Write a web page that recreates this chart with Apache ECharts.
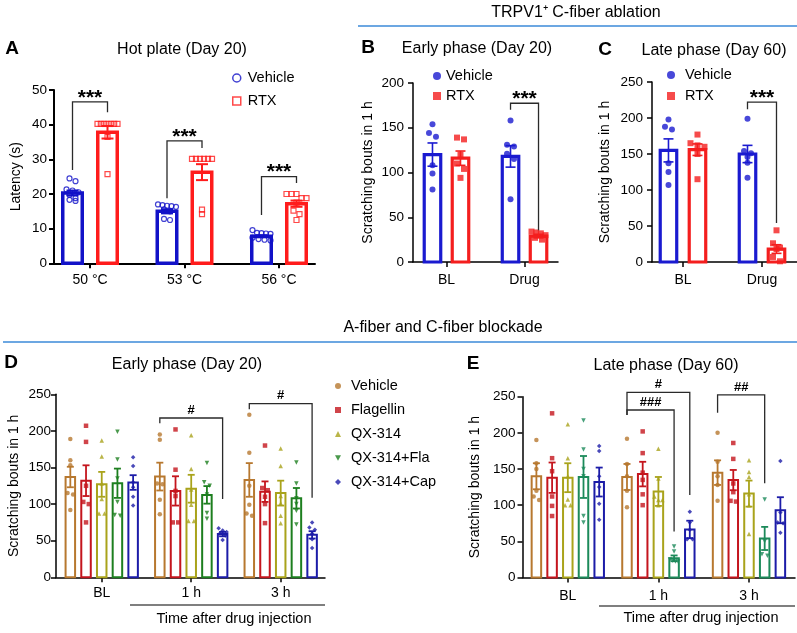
<!DOCTYPE html>
<html><head><meta charset="utf-8">
<script src="https://cdn.jsdelivr.net/npm/echarts@6/dist/echarts.min.js"></script>
<style>html,body{margin:0;padding:0;background:#fff}#c{width:797px;height:633px}</style>
</head><body><div id="c"></div>
<script>
// ---------- DATA ----------
// Panel A: hot plate latency (s)
const hotCats = ['50 °C', '53 °C', '56 °C'];
const hotVehMean = [20.3, 15.0, 7.8];
const hotVehSem = [0.7, 0.6, 0.3];
const hotRtxMean = [37.8, 26.3, 17.2];
const hotRtxSem = [1.8, 2.3, 0.9];
const hotVehPts = [[24.5, 23.7, 21.3, 21.0, 20.5, 19.8, 18.8, 18.3, 18.0],
                   [17.0, 16.8, 16.6, 16.5, 16.3, 15.6, 15.0, 12.8, 12.5],
                   [9.6, 8.8, 8.7, 8.6, 8.5, 7.4, 7.0, 6.8, 6.6]];
const hotRtxPts = [[40.2, 40.2, 40.2, 40.2, 40.2, 40.2, 40.2, 36.5, 25.7],
                   [30.1, 30.1, 30.1, 30.1, 30.1, 30.1, 15.5, 14.2],
                   [20.0, 20.0, 20.0, 18.8, 18.8, 17.5, 15.2, 14.2, 12.5]];
const hotBrackets = [[0, 0, 1, 46.6, 26.9, 43.6], [1, 0, 1, 35.3, 18.8, 33.3], [2, 0, 1, 25.0, 13.9, 23.2]];
const hotSig = ['***', '***', '***'];

// Panel B: early phase (Day 20)
const phaseCats = ['BL', 'Drug'];
const earlyVehMean = [120, 118];
const earlyVehSem = [13, 12];
const earlyRtxMean = [116, 29];
const earlyRtxSem = [8, 2];
const earlyVehPts = [[154, 144, 140, 108, 99, 81], [158, 131, 129, 121, 115, 70]];
const earlyRtxPts = [[139, 137, 120, 110, 104, 94], [34, 33, 32, 30, 27, 25]];
const earlyBrackets = [[1, 0, 1, 177.4, 170, 35.5]];
const earlySig = ['***'];

// Panel C: late phase (Day 60)
const lateVehMean = [155, 150];
const lateVehSem = [16, 12];
const lateRtxMean = [156, 18];
const lateRtxSem = [8, 6];
const lateVehPts = [[198, 188, 184, 137, 125, 107], [199, 154, 151, 146, 138, 117]];
const lateRtxPts = [[177, 165, 162, 160, 150, 115], [44, 26, 20, 18, 7, 1]];
const lateBrackets = [[1, 0, 1, 222, 212, 54]];
const lateSig = ['***'];

// Panels D & E: A-fiber and C-fiber blockade
const timeCats = ['BL', '1 h', '3 h'];
const groupNames = ['Vehicle', 'Flagellin', 'QX-314', 'QX-314+Fla', 'QX-314+Cap'];
const dMean = [[137, 137.6, 133], [132, 118, 117], [127, 121, 115], [128.5, 112.6, 108], [129.5, 59, 58]];
const dSem = [[14, 19, 23], [21, 20, 14], [17, 19, 17], [20, 12, 14], [10, 3, 5]];
const dPts = [
  [[189, 160, 153, 115, 113, 92], [195, 188, 128, 127, 106, 86], [222, 170, 125, 99, 87, 84]],
  [[207, 185, 125, 103, 100, 75], [202, 147, 118, 111, 75, 75], [180, 122, 119, 110, 100, 74]],
  [[187, 165, 128, 107, 87, 87], [194, 148, 120, 99, 77, 77], [176, 152, 111, 101, 84, 74]],
  [[199, 161, 135, 103, 84, 85], [156, 130, 125, 113, 88, 80], [157, 128, 108, 100, 91, 72]],
  [[164, 152, 130, 123, 110, 98], [67, 64, 62, 60, 57, 51], [75, 68, 65, 60, 52, 40]]
];
const dBrackets = [[1, 0, 4, 217.6, 210.4, 107], [2, 0, 4, 237.3, 229.5, 108.6]];
const dSig = ['#', '#'];

const eMean = [[140, 139, 145], [138, 143, 134.7], [138, 119, 116], [139, 26.5, 54], [132, 66.5, 93]];
const eSem = [[18, 18, 17], [21, 17, 14], [20, 20, 18], [29, 4, 16], [20, 12, 18]];
const ePts = [
  [[190, 158, 150, 120, 112, 107], [192, 157, 140, 120, 97], [200, 160, 140, 128, 106]],
  [[227, 165, 147, 112, 99, 85], [202, 172, 145, 135, 115, 100], [186, 164, 130, 118, 106, 105]],
  [[212, 165, 140, 108, 100, 100], [178, 137, 112, 107, 107, 100], [162, 146, 139, 115, 100, 60]],
  [[217, 177, 150, 140, 85, 76], [43, 36, 25, 23, 22, 22], [108, 50, 32, 30]],
  [[182, 175, 140, 125, 102, 80], [91, 76, 66, 53, 53], [161, 90, 76, 75, 62]]
];
const eBrackets = [[1, 0, 4, 256, 224.7, 114], [1, 0, 3, 231.6, 224.7, 63.6], [2, 0, 3, 252.4, 227.9, 130.3]];
const eSig = ['#', '###', '##'];

// ---------- STYLE ----------
const FONT = "'Liberation Sans', Arial, Helvetica, sans-serif";
const BLUE_A = '#1212c8', RED_A = '#ff1c1c';
const BLUE_B = '#1a1ad0', RED_B = '#f41e1e';
const grpColorsD = ['#b7782f', '#c4151d', '#a9a31b', '#1d7f1f', '#1c1ca8'];
const grpColorsE = ['#b7782f', '#c4151d', '#a9a31b', '#1c8a5a', '#1c1ca8'];
const DOWN_TRI = 'path://M0,0L10,0L5,9Z';
const grpSymbols = ['circle', 'rect', 'triangle', DOWN_TRI, 'diamond'];
const grpOffs = [-31.4, -15.7, 0, 15.7, 31.4];

function swarm(vals, ppu, size, maxW) {
  const idx = vals.map((v, i) => i).sort((a, b) => vals[b] - vals[a]);
  const rows = [];
  idx.forEach(i => {
    const r = rows[rows.length - 1];
    if (r && (r.top - vals[i]) * ppu < size * 0.9) r.items.push(i);
    else rows.push({ top: vals[i], items: [i] });
  });
  const off = new Array(vals.length).fill(0);
  rows.forEach(r => {
    const k = r.items.length;
    const step = k > 1 ? Math.min(size + 1, maxW / (k - 1)) : 0;
    r.items.forEach((i, j) => { off[i] = (j - (k - 1) / 2) * step; });
  });
  return off;
}

function barSeries(g, mean, sem, color, off, w, lw, elw, cap) {
  return {
    type: 'custom', xAxisIndex: g, yAxisIndex: g, clip: false, silent: true, z: 2,
    data: mean.map((m, i) => [i, m, sem[i]]),
    renderItem: (params, api) => {
      const c = api.value(0), m = api.value(1), s = api.value(2);
      const p0 = api.coord([c, 0]), pm = api.coord([c, m]);
      const pt = api.coord([c, m + s]), pb = api.coord([c, Math.max(0, m - s)]);
      const cx = p0[0] + off;
      const es = { stroke: color, lineWidth: elw };
      return { type: 'group', children: [
        { type: 'rect', shape: { x: cx - w / 2, y: pm[1], width: w, height: p0[1] - pm[1] },
          style: { fill: 'none', stroke: color, lineWidth: lw } },
        { type: 'line', shape: { x1: cx, y1: pt[1], x2: cx, y2: pb[1] }, style: es },
        { type: 'line', shape: { x1: cx - cap, y1: pt[1], x2: cx + cap, y2: pt[1] }, style: es },
        { type: 'line', shape: { x1: cx - cap, y1: pb[1], x2: cx + cap, y2: pb[1] }, style: es }
      ] };
    }
  };
}

function ptsSeries(name, g, ptsByCat, off, ppu, size, maxW, symbol, itemStyle) {
  const data = [];
  ptsByCat.forEach((arr, c) => {
    const o = swarm(arr, ppu, size, maxW);
    arr.forEach((v, k) => data.push({ value: [c, v], symbolOffset: [off + o[k], 0] }));
  });
  return { type: 'scatter', name, xAxisIndex: g, yAxisIndex: g, symbol, symbolSize: size,
    itemStyle, data, z: 4, silent: true, clip: false };
}

function bracketSeries(g, items, labels, offs, font, dy) {
  return {
    type: 'custom', xAxisIndex: g, yAxisIndex: g, clip: false, silent: true, z: 5, data: items,
    renderItem: (params, api) => {
      const c = api.value(0), li = api.value(1), ri = api.value(2);
      const pt = api.coord([c, api.value(3)]), pl = api.coord([c, api.value(4)]), pr = api.coord([c, api.value(5)]);
      const xl = pt[0] + offs[li], xr = pt[0] + offs[ri];
      return { type: 'group', children: [
        { type: 'polyline', shape: { points: [[xl, pl[1]], [xl, pt[1]], [xr, pt[1]], [xr, pr[1]]] },
          style: { stroke: '#2a2a2a', lineWidth: 1.3, fill: 'none' } },
        { type: 'text', x: (xl + xr) / 2, y: pt[1] + dy,
          style: { text: labels[params.dataIndex], textAlign: 'center', textVerticalAlign: 'middle', font: font, fill: '#000' } }
      ] };
    }
  };
}

function xAx(g, min, max, cats, lw, margin) {
  const vals = cats.map((_, i) => i);
  return { type: 'value', gridIndex: g, min, max, position: 'bottom', splitLine: { show: false },
    axisLine: { show: true, onZero: false, lineStyle: { color: '#000', width: lw } },
    axisTick: { show: true, customValues: vals, length: 5, lineStyle: { color: '#000', width: lw } },
    axisLabel: { customValues: vals, formatter: v => cats[Math.round(v)], color: '#000', fontSize: 14, fontFamily: FONT, margin } };
}
function yAx(g, max, interval, name, nameGap, lw, fs, margin) {
  return { type: 'value', gridIndex: g, min: 0, max, interval, name, nameLocation: 'middle', nameGap, nameRotate: 90,
    nameTextStyle: { fontSize: 14, fontFamily: FONT, color: '#000' }, splitLine: { show: false },
    axisLine: { show: true, onZero: false, lineStyle: { color: '#000', width: lw } },
    axisTick: { show: true, length: 5, lineStyle: { color: '#000', width: lw } },
    axisLabel: { color: '#000', fontSize: fs, fontFamily: FONT, margin } };
}

const series = [];
// A
series.push(barSeries(0, hotVehMean, hotVehSem, BLUE_A, -17.5, 19.5, 3.5, 2, 6));
series.push(barSeries(0, hotRtxMean, hotRtxSem, RED_A, 17.5, 19.5, 3.5, 2, 6));
series.push(ptsSeries('Vehicle', 0, hotVehPts, -17.5, 3.466, 5, 18, 'circle', { color: 'rgba(255,255,255,0)', borderColor: BLUE_A, borderWidth: 1.2 }));
series.push(ptsSeries('RTX', 0, hotRtxPts, 17.5, 3.466, 5, 20, 'rect', { color: 'rgba(255,255,255,0)', borderColor: RED_A, borderWidth: 1.2 }));
series.push(bracketSeries(0, hotBrackets, hotSig, [-17.5, 17.5], 'bold 21px ' + FONT, -4));
// B
series.push(barSeries(1, earlyVehMean, earlyVehSem, BLUE_B, -14, 16.5, 3.2, 1.6, 5));
series.push(barSeries(1, earlyRtxMean, earlyRtxSem, RED_B, 14, 16.5, 3.2, 1.6, 5));
series.push(ptsSeries('Vehicle', 1, earlyVehPts, -14, 0.895, 6, 14, 'circle', { color: BLUE_B }));
series.push(ptsSeries('RTX', 1, earlyRtxPts, 14, 0.895, 6, 14, 'rect', { color: RED_B }));
series.push(bracketSeries(1, earlyBrackets, earlySig, [-14, 14], 'bold 21px ' + FONT, -4));
// C
series.push(barSeries(2, lateVehMean, lateVehSem, BLUE_B, -14.5, 16.5, 3.2, 1.6, 5));
series.push(barSeries(2, lateRtxMean, lateRtxSem, RED_B, 14.5, 16.5, 3.2, 1.6, 5));
series.push(ptsSeries('Vehicle', 2, lateVehPts, -14.5, 0.72, 6, 14, 'circle', { color: BLUE_B }));
series.push(ptsSeries('RTX', 2, lateRtxPts, 14.5, 0.72, 6, 14, 'rect', { color: RED_B }));
series.push(bracketSeries(2, lateBrackets, lateSig, [-14.5, 14.5], 'bold 21px ' + FONT, -4));
// D & E
groupNames.forEach((nm, k) => {
  series.push(barSeries(3, dMean[k], dSem[k], grpColorsD[k], grpOffs[k], 9.5, 2, 1.8, 3.5));
  series.push(ptsSeries(nm, 3, dPts[k], grpOffs[k], 0.732, 4.5, 8, grpSymbols[k], { color: grpColorsD[k] }));
  series.push(barSeries(4, eMean[k], eSem[k], grpColorsE[k], grpOffs[k], 9.5, 2, 1.8, 3.5));
  series.push(ptsSeries(nm, 4, ePts[k], grpOffs[k], 0.723, 4.5, 8, grpSymbols[k], { color: grpColorsE[k] }));
});
series.push(bracketSeries(3, dBrackets, dSig, grpOffs, 'bold 13px ' + FONT, -8));
series.push(bracketSeries(4, eBrackets, eSig, grpOffs, 'bold 13px ' + FONT, -8));

const legText = { fontSize: 14.5, fontFamily: FONT, color: '#000', lineHeight: 16 };
function txt(x, y, text, font, align) {
  return { type: 'text', x, y, silent: true, style: { text, font, fill: '#000', textAlign: align || 'center', textVerticalAlign: 'middle' } };
}
function ln(x1, y1, x2, y2, color, w) {
  return { type: 'line', silent: true, shape: { x1, y1, x2, y2 }, style: { stroke: color, lineWidth: w } };
}
const LET = 'bold 19px ' + FONT, TIT = '16px ' + FONT;

const option = {
  animation: false,
  backgroundColor: '#fff',
  grid: [
    { left: 54, top: 90, width: 261, height: 173.3 },
    { left: 413, top: 83, width: 145, height: 179 },
    { left: 652, top: 82, width: 145, height: 180 },
    { left: 56, top: 394.3, width: 269, height: 183 },
    { left: 522.5, top: 396.7, width: 272.5, height: 180.8 }
  ],
  xAxis: [
    xAx(0, -0.381, 2.381, hotCats, 2, 10),
    xAx(1, -0.429, 1.429, phaseCats, 1.5, 11),
    xAx(2, -0.392, 1.443, phaseCats, 1.5, 11),
    xAx(3, -0.511, 2.495, timeCats, 1.5, 9),
    xAx(4, -0.5, 2.508, timeCats, 1.5, 12)
  ],
  yAxis: [
    yAx(0, 50, 10, 'Latency (s)', 31, 2, 13.5, 7),
    yAx(1, 200, 50, 'Scratching bouts in 1 h', 38, 1.5, 13.5, 9),
    yAx(2, 250, 50, 'Scratching bouts in 1 h', 40, 1.5, 13.5, 9),
    yAx(3, 250, 50, 'Scratching bouts in 1 h', 35, 1.5, 13.5, 5),
    yAx(4, 250, 50, 'Scratching bouts in 1 h', 40, 1.5, 13.5, 7)
  ],
  legend: [
    { orient: 'vertical', left: 227, top: 65, itemWidth: 8, itemHeight: 8, itemGap: 7, selectedMode: false,
      textStyle: Object.assign({ padding: [0, 0, 0, 2] }, legText),
      data: [{ name: 'Vehicle', icon: 'circle', itemStyle: { color: 'rgba(255,255,255,0)', borderColor: BLUE_A, borderWidth: 1.5 } },
             { name: 'RTX', icon: 'rect', itemStyle: { color: 'rgba(255,255,255,0)', borderColor: RED_A, borderWidth: 1.5 } }] },
    { orient: 'vertical', left: 428, top: 63, itemWidth: 8, itemHeight: 8, itemGap: 4, selectedMode: false,
      textStyle: Object.assign({}, legText),
      data: [{ name: 'Vehicle', icon: 'circle', itemStyle: { color: BLUE_B, borderWidth: 0 } },
             { name: 'RTX', icon: 'rect', itemStyle: { color: RED_B, borderWidth: 0 } }] },
    { orient: 'vertical', left: 662, top: 62, itemWidth: 8, itemHeight: 8, itemGap: 5, selectedMode: false,
      textStyle: Object.assign({ padding: [0, 0, 0, 5] }, legText),
      data: [{ name: 'Vehicle', icon: 'circle', itemStyle: { color: BLUE_B, borderWidth: 0 } },
             { name: 'RTX', icon: 'rect', itemStyle: { color: RED_B, borderWidth: 0 } }] },
    { orient: 'vertical', left: 330, top: 373, itemWidth: 6, itemHeight: 6, itemGap: 8, selectedMode: false,
      textStyle: Object.assign({ padding: [0, 0, 0, 5] }, legText),
      data: groupNames.map((nm, k) => ({ name: nm, icon: grpSymbols[k], itemStyle: { color: grpColorsD[k], borderWidth: 0 } })) }
  ],
  graphic: [
    txt(12, 49, 'A', LET), txt(368, 48, 'B', LET), txt(605, 49.5, 'C', LET), txt(11, 363, 'D', LET), txt(473, 364, 'E', LET),
    txt(182, 50, 'Hot plate (Day 20)', TIT), txt(477, 49, 'Early phase (Day 20)', TIT), txt(714, 50.5, 'Late phase (Day 60)', TIT),
    txt(187, 365, 'Early phase (Day 20)', TIT), txt(666, 365.5, 'Late phase (Day 60)', TIT),
    txt(576, 12.5, 'TRPV1\u207A C-fiber ablation', TIT), txt(443, 328, 'A-fiber and C-fiber blockade', TIT),
    ln(358, 26, 797, 26, '#3b8ad9', 1.3), ln(3, 342, 797, 342, '#3b8ad9', 1.3),
    ln(130, 605, 325, 605, '#000', 1.2), txt(234, 618.5, 'Time after drug injection', '14.5px ' + FONT),
    ln(599, 606, 795, 606, '#000', 1.2), txt(701, 618, 'Time after drug injection', '14.5px ' + FONT)
  ],
  series
};
const chart = echarts.init(document.getElementById('c'), null, { renderer: 'canvas' });
chart.setOption(option);
</script></body></html>
